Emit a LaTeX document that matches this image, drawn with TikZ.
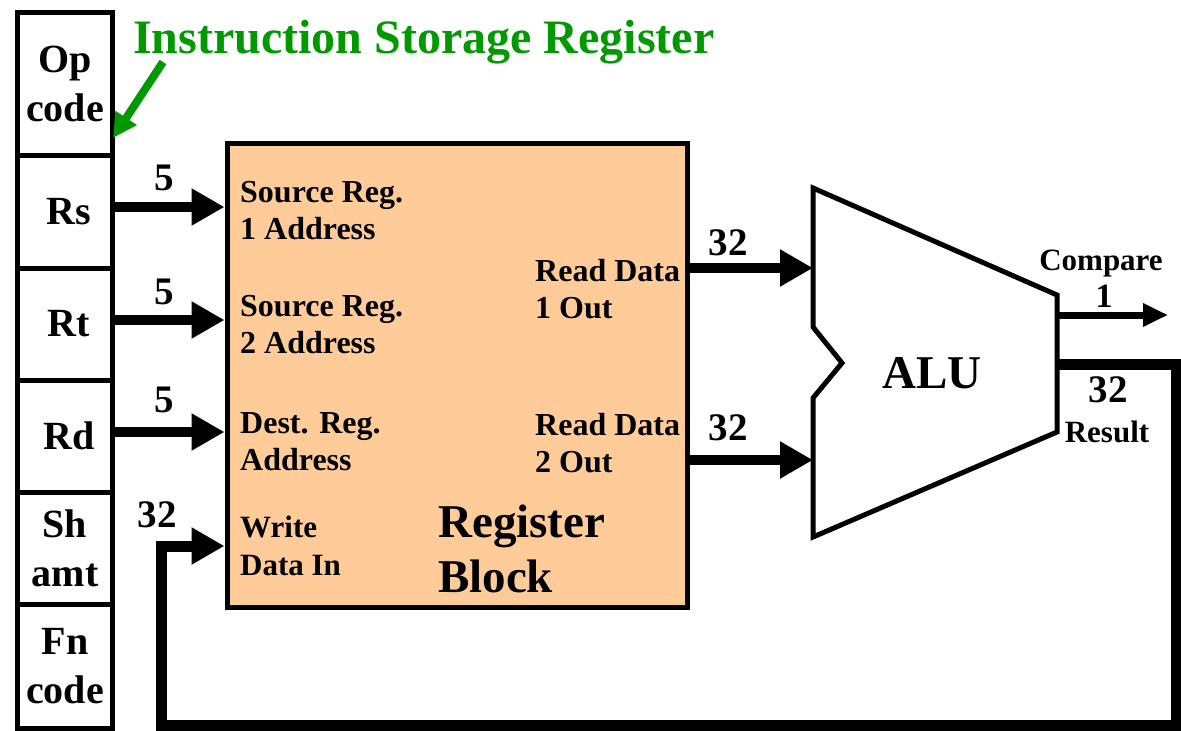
\documentclass[tikz,border=0pt]{standalone}
\usepackage{fontspec}
\setmainfont{Liberation Serif}
\usetikzlibrary{arrows.meta,calc}
\definecolor{peach}{RGB}{255,204,153}
\definecolor{isrgreen}{RGB}{0,153,0}
\tikzset{
  field/.style={draw, line width=5pt, minimum width=95pt, inner sep=0pt,
    align=center, font=\fontsize{40}{49}\selectfont\bfseries},
  bus/.style={line width=10pt, -{Triangle[length=33pt,width=35pt]}},
  loopbus/.style={line width=11pt, line join=miter, -{Triangle[length=33pt,width=35pt]}},
  num/.style={font=\fontsize{39}{39}\selectfont\bfseries, inner sep=0pt, anchor=base},
  small/.style={font=\fontsize{31}{31}\selectfont\bfseries, inner sep=0pt, anchor=base},
  % two-line port labels, placed by the baseline of their last line
  port/.style={font=\fontsize{32}{37}\selectfont\bfseries, inner sep=0pt,
    anchor=base west, align=left},
}
\begin{document}
\begin{tikzpicture}[x=1pt,y=-1pt]
\path[use as bounding box] (0,0) rectangle (1181,731);

% instruction storage register fields
\node[field] (op) at (65,83.75)  [minimum height=143.5pt] {Op\\code};
\node[field] (rs) at (65,211.75) [minimum height=112.5pt] {\hspace*{8pt}Rs};
\node[field] (rt) at (65,324)    [minimum height=112pt]   {\hspace*{8pt}Rt};
\node[field] (rd) at (65,436)    [minimum height=112pt]   {\hspace*{8pt}Rd};
\node[field] (sh) at (65,548)    [minimum height=112pt]   {Sh\\amt};
\node[field] (fn) at (65,666.25) [minimum height=124.5pt] {Fn\\code};

% title with its pointer
\node[font=\fontsize{48}{48}\selectfont\bfseries, text=isrgreen, inner sep=0pt,
  anchor=base west] (title) at (133,53) {Instruction Storage Register};
\coordinate (gStart) at (163,62);
\coordinate (gTip) at (113,138);
\draw[isrgreen, line width=8pt, -{Triangle[length=24pt,width=24pt]}] (gStart) -- (gTip);

% register block
\node[draw, line width=5pt, fill=peach, minimum width=460pt, minimum height=463.5pt,
  inner sep=0pt] (reg) at (457,375.25) {};
\node[port] (src1) at (240,239) {Source Reg.\\1 Address};
\node[port] (src2) at (240,353) {Source Reg.\\2 Address};
\node[port] (dst)  at (240,470) {Dest. Reg.\\Address};
\node[port, font=\fontsize{31}{38}\selectfont\bfseries] (wr) at (240,575) {Write\\Data In};
\node[port] (rd1) at (535,318) {Read Data\\1 Out};
\node[port] (rd2) at (535,472) {Read Data\\2 Out};
\node[port, font=\fontsize{47}{55}\selectfont\bfseries] (regname) at (438,592) {Register\\Block};

% register address buses
\coordinate (inRs) at (reg.west |- 0,207);
\coordinate (inRt) at (reg.west |- 0,320);
\coordinate (inRd) at (reg.west |- 0,432);
\coordinate (inWr) at (reg.west |- 0,546);
\draw[bus] (rs.east |- inRs) -- (inRs);
\draw[bus] (rt.east |- inRt) -- (inRt);
\draw[bus] (rd.east |- inRd) -- (inRd);
\node[num] (w1) at (164,190) {5};
\node[num] (w2) at (164,304) {5};
\node[num] (w3) at (164,412) {5};
\node[num] (w4) at (157,527) {32};

% ALU outline
\coordinate (aluA) at (813,188);
\coordinate (aluB) at (1057,295);
\coordinate (aluC) at (1057,432);
\coordinate (aluD) at (813,537);
\coordinate (aluE) at (813,398);
\coordinate (aluF) at (842,363);
\coordinate (aluG) at (813,327);
\draw[line width=5pt, line join=miter] (aluA) -- (aluB) -- (aluC) -- (aluD) -- (aluE)
  -- (aluF) -- (aluG) -- cycle;
\node[font=\fontsize{47}{47}\selectfont\bfseries, inner sep=0pt, anchor=base] (alu) at (932,388) {ALU};

% data buses into the ALU
\coordinate (aluIn1) at (813,268);
\coordinate (aluIn2) at (813,460);
\draw[bus] (reg.east |- aluIn1) -- (aluIn1);
\draw[bus] (reg.east |- aluIn2) -- (aluIn2);
\node[num] (w5) at (728,255) {32};
\node[num] (w6) at (728,440) {32};

% compare output
\coordinate (cmpOut) at (1057,315);
\coordinate (cmpEnd) at (1168,315);
\draw[line width=7pt, -{Triangle[length=25pt,width=22pt]}] (cmpOut) -- (cmpEnd);
\node[small] (cmp) at (1101,270) {Compare};
\node[num, font=\fontsize{34}{34}\selectfont\bfseries] (w7) at (1104,307) {1};

% result fed back to the write port
\coordinate (resOut) at (1057,364);
\coordinate (loopTR) at (1176,364);
\coordinate (loopBR) at (1176,725);
\coordinate (loopBL) at (161,725);
\coordinate (loopTL) at (161,546);
\draw[loopbus] (resOut) -- (loopTR) -- (loopBR) -- (loopBL) -- (loopTL) -- (inWr);
\node[num] (w8) at (1108,402) {32};
\node[small] (res) at (1107,442) {Result};
\end{tikzpicture}
\end{document}
